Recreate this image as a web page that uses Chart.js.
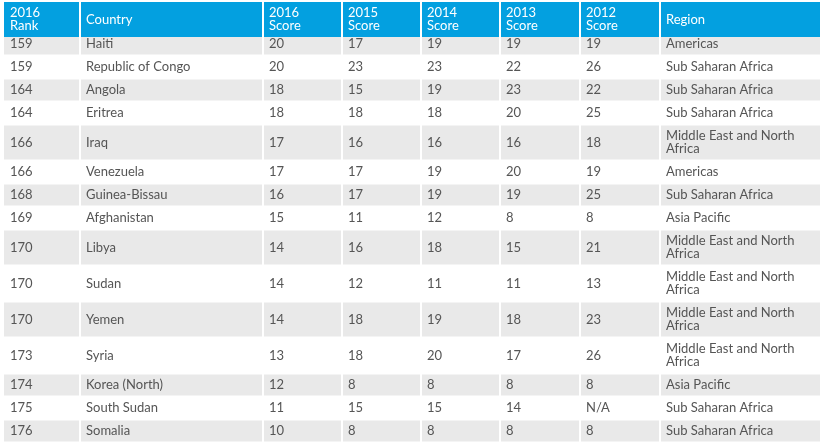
<!DOCTYPE html>
<html>
<head>
<meta charset="utf-8">
<script src="https://cdn.jsdelivr.net/npm/chart.js@4.4.0/dist/chart.umd.min.js"></script>
<style>
  html, body { margin: 0; padding: 0; background: #fff; overflow: hidden; }
  canvas { display: block; }
</style>
</head>
<body>
<canvas id="table" width="824" height="444"></canvas>
<script>
// table data
const headers = ['2016\nRank', 'Country', '2016\nScore', '2015\nScore', '2014\nScore', '2013\nScore', '2012\nScore', 'Region'];
const ranks = [159, 159, 164, 164, 166, 166, 168, 169, 170, 170, 170, 173, 174, 175, 176];
const countries = ['Haiti', 'Republic of Congo', 'Angola', 'Eritrea', 'Iraq', 'Venezuela', 'Guinea-Bissau',
    'Afghanistan', 'Libya', 'Sudan', 'Yemen', 'Syria', 'Korea (North)', 'South Sudan', 'Somalia'];
const score2016 = [20, 20, 18, 18, 17, 17, 16, 15, 14, 14, 14, 13, 12, 11, 10];
const score2015 = [17, 23, 15, 18, 16, 17, 17, 11, 16, 12, 18, 18, 8, 15, 8];
const score2014 = [19, 23, 19, 18, 16, 19, 19, 12, 18, 11, 19, 20, 8, 15, 8];
const score2013 = [19, 22, 23, 20, 16, 20, 19, 8, 15, 11, 18, 17, 8, 14, 8];
const score2012 = [19, 26, 22, 25, 18, 19, 25, 8, 21, 13, 23, 26, 8, null, 8];
const regions = ['Americas', 'Sub Saharan Africa', 'Sub Saharan Africa', 'Sub Saharan Africa',
    'Middle East and North Africa', 'Americas', 'Sub Saharan Africa', 'Asia Pacific',
    'Middle East and North Africa', 'Middle East and North Africa', 'Middle East and North Africa',
    'Middle East and North Africa', 'Asia Pacific', 'Sub Saharan Africa', 'Sub Saharan Africa'];

// layout
const colEdges = [4, 80, 263, 342, 421, 500, 580, 660, 821];
const headTop = 2, headBottom = 37, scrollOffset = 4.5;
const lineH = 13, rowPad = 10, textPad = 6;
const FONT = '13px Lato, "Open Sans", sans-serif';
const BLUE = '#03a0e0', GREY = '#e9e9e9', TEXT = '#555';

const columns = [ranks, countries, score2016, score2015, score2014, score2013, score2012, regions]
    .map(col => col.map(v => v === null ? 'N/A' : String(v)));

const measure = document.createElement('canvas').getContext('2d');
measure.font = FONT;
function wrap(text, maxW) {
    const words = text.split(' ');
    const lines = [];
    let cur = '';
    words.forEach(w => {
        const t = cur ? cur + ' ' + w : w;
        if (cur && measure.measureText(t).width > maxW) { lines.push(cur); cur = w; }
        else cur = t;
    });
    lines.push(cur);
    return lines;
}

// wrapped lines per cell and row heights
const cellLines = columns.map((col, c) =>
    col.map(t => wrap(t, colEdges[c + 1] - colEdges[c] - 2 * textPad)));
const rowTops = [], rowHeights = [];
let cursor = headBottom - scrollOffset;
countries.forEach((_, r) => {
    const n = Math.max(...cellLines.map(col => col[r].length));
    const h = n * lineH + rowPad;
    rowTops.push(cursor); rowHeights.push(h);
    cursor += h;
});

const datasets = columns.map((col, c) => ({
    label: headers[c],
    data: col.map((_, r) => ({ x: colEdges[c] + textPad, y: rowTops[r] + rowHeights[r] / 2 })),
    pointRadius: 0,
    pointHoverRadius: 0
}));

const tablePlugin = {
    id: 'tableCells',
    beforeDatasetsDraw(chart) {
        const { ctx, scales: { x, y } } = chart;
        ctx.save();
        ctx.beginPath();
        ctx.rect(x.getPixelForValue(0), y.getPixelForValue(headBottom), chart.width, chart.height);
        ctx.clip();
        // grey striped rows, cells spaced by thin white borders
        rowTops.forEach((t, r) => {
            if (r % 2) return;
            const y0 = y.getPixelForValue(t), y1 = y.getPixelForValue(t + rowHeights[r]);
            ctx.fillStyle = GREY;
            for (let c = 0; c < headers.length; c++) {
                const x0 = x.getPixelForValue(colEdges[c] + (c ? 1 : 0));
                const x1 = x.getPixelForValue(colEdges[c + 1] - 1);
                ctx.fillRect(x0, y0 + 1, x1 - x0, y1 - y0 - 2);
            }
        });
        // cell text at the points placed by the scales
        ctx.font = FONT;
        ctx.fillStyle = TEXT;
        ctx.textBaseline = 'middle';
        ctx.textAlign = 'left';
        chart.data.datasets.forEach((ds, c) => {
            chart.getDatasetMeta(c).data.forEach((pt, r) => {
                const lines = cellLines[c][r];
                lines.forEach((ln, i) => {
                    ctx.fillText(ln, pt.x, pt.y + (i - (lines.length - 1) / 2) * lineH);
                });
            });
        });
        ctx.restore();
    },
    afterDatasetsDraw(chart) {
        const { ctx, scales: { x, y } } = chart;
        ctx.save();
        const y0 = y.getPixelForValue(headTop), y1 = y.getPixelForValue(headBottom);
        ctx.font = FONT;
        ctx.textBaseline = 'middle';
        headers.forEach((h, c) => {
            const x0 = x.getPixelForValue(colEdges[c] + (c ? 1 : 0));
            const x1 = x.getPixelForValue(colEdges[c + 1] - 1);
            ctx.fillStyle = BLUE;
            ctx.fillRect(x0, y0, x1 - x0, y1 - y0);
            ctx.fillStyle = '#fff';
            const lines = h.split('\n');
            const cy = (y0 + y1) / 2;
            lines.forEach((ln, i) => {
                ctx.fillText(ln, x.getPixelForValue(colEdges[c] + textPad), cy + (i - (lines.length - 1) / 2) * lineH);
            });
        });
        ctx.restore();
    }
};

new Chart(document.getElementById('table'), {
    type: 'scatter',
    data: { datasets },
    options: {
        responsive: false,
        animation: false,
        events: [],
        layout: { padding: 0 },
        plugins: { legend: { display: false }, tooltip: { enabled: false } },
        scales: {
            x: { type: 'linear', display: false, min: 0, max: 824 },
            y: { type: 'linear', display: false, min: 0, max: 444, reverse: true }
        }
    },
    plugins: [tablePlugin]
});
</script>
</body>
</html>
